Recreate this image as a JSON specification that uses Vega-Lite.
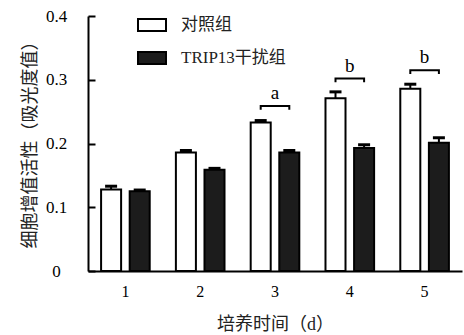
{
  "$schema": "https://vega.github.io/schema/vega-lite/v6.json",
  "width": 374,
  "height": 255,
  "autosize": {"type": "none"},
  "padding": {"left": 88, "top": 16, "right": 2, "bottom": 64},
  "background": "white",
  "config": {"view": {"stroke": null}},
  "datasets": {
    "bars": [
      {"day": "1", "group": "对照组", "value": 0.128, "err": 0.005},
      {"day": "1", "group": "TRIP13干扰组", "value": 0.125, "err": 0.002},
      {"day": "2", "group": "对照组", "value": 0.186, "err": 0.003},
      {"day": "2", "group": "TRIP13干扰组", "value": 0.159, "err": 0.002},
      {"day": "3", "group": "对照组", "value": 0.233, "err": 0.003},
      {"day": "3", "group": "TRIP13干扰组", "value": 0.186, "err": 0.003},
      {"day": "4", "group": "对照组", "value": 0.271, "err": 0.010},
      {"day": "4", "group": "TRIP13干扰组", "value": 0.193, "err": 0.005},
      {"day": "5", "group": "对照组", "value": 0.286, "err": 0.007},
      {"day": "5", "group": "TRIP13干扰组", "value": 0.201, "err": 0.008}
    ],
    "brackets": [
      {"day": "3", "group": "对照组", "y": 0.253, "ord": 1},
      {"day": "3", "group": "对照组", "y": 0.259, "ord": 2},
      {"day": "3", "group": "TRIP13干扰组", "y": 0.259, "ord": 3},
      {"day": "3", "group": "TRIP13干扰组", "y": 0.253, "ord": 4},
      {"day": "4", "group": "对照组", "y": 0.296, "ord": 1},
      {"day": "4", "group": "对照组", "y": 0.302, "ord": 2},
      {"day": "4", "group": "TRIP13干扰组", "y": 0.302, "ord": 3},
      {"day": "4", "group": "TRIP13干扰组", "y": 0.296, "ord": 4},
      {"day": "5", "group": "对照组", "y": 0.309, "ord": 1},
      {"day": "5", "group": "对照组", "y": 0.315, "ord": 2},
      {"day": "5", "group": "TRIP13干扰组", "y": 0.315, "ord": 3},
      {"day": "5", "group": "TRIP13干扰组", "y": 0.309, "ord": 4}
    ],
    "labels": [
      {"day": "3", "y": 0.270, "label": "a"},
      {"day": "4", "y": 0.312, "label": "b"},
      {"day": "5", "y": 0.326, "label": "b"}
    ]
  },
  "encoding": {
    "x": {
      "field": "day", "type": "ordinal",
      "scale": {"paddingInner": 0.35, "paddingOuter": 0.175},
      "axis": {
        "title": "培养时间（d）",
        "labelAngle": 0,
        "labelFont": "'Liberation Serif', 'Times New Roman', serif",
        "labelFontSize": 16,
        "labelColor": "black",
        "labelPadding": 12,
        "ticks": false,
        "domainColor": "black",
        "domainWidth": 2,
        "titleFont": "'Liberation Serif', 'Noto Sans CJK SC', serif",
        "titleFontSize": 18,
        "titleFontWeight": "normal",
        "titleColor": "#222",
        "titlePadding": 16
      }
    }
  },
  "layer": [
    {
      "data": {"name": "bars"},
      "transform": [{"calculate": "datum.value + datum.err", "as": "top"}],
      "mark": {"type": "tick", "color": "black", "thickness": 3, "size": 12, "opacity": 1},
      "encoding": {
        "xOffset": {"field": "group", "type": "nominal", "scale": {"domain": ["对照组", "TRIP13干扰组"], "paddingInner": 0.3, "paddingOuter": 0}},
        "y": {"field": "top", "type": "quantitative"}
      }
    },
    {
      "data": {"name": "bars"},
      "mark": {"type": "bar", "stroke": "black", "strokeWidth": 2},
      "encoding": {
        "xOffset": {"field": "group", "type": "nominal"},
        "y": {
          "field": "value", "type": "quantitative",
          "scale": {"domain": [0, 0.4], "nice": false},
          "axis": {
            "values": [0, 0.1, 0.2, 0.3, 0.4],
            "labelExpr": "datum.value == 0 ? '0' : format(datum.value, '.1f')",
            "grid": false,
            "domainColor": "black",
            "domainWidth": 2,
            "tickColor": "black",
            "tickWidth": 2,
            "tickSize": -7,
            "labelFont": "'Liberation Serif', 'Times New Roman', serif",
            "labelFontSize": 17,
            "labelColor": "black",
            "labelAlign": "center",
            "labelPadding": 39,
            "title": "细胞增值活性（吸光度值）",
            "titleFont": "'Noto Sans CJK SC', sans-serif",
            "titleFontSize": 18,
            "titleFontWeight": "normal",
            "titleColor": "#222",
            "titleX": -58,
            "titleY": 124,
            "titleAngle": -90,
            "titleAlign": "center",
            "titleBaseline": "middle"
          }
        },
        "fill": {
          "field": "group", "type": "nominal",
          "scale": {"domain": ["对照组", "TRIP13干扰组"], "range": ["white", "#1c1c1c"]},
          "legend": {
            "orient": "none",
            "legendX": 49,
            "legendY": -6,
            "title": null,
            "symbolType": "M-1,-0.43H1V0.43H-1Z",
            "symbolSize": 784,
            "symbolStrokeColor": "black",
            "symbolStrokeWidth": 2,
            "labelFont": "'Liberation Serif', 'Noto Sans CJK SC', serif",
            "labelFontSize": 17,
            "labelColor": "#222",
            "labelOffset": 14,
            "rowPadding": 7
          }
        }
      }
    },
    {
      "data": {"name": "bars"},
      "transform": [{"calculate": "datum.value + datum.err", "as": "top"}],
      "mark": {"type": "rule", "stroke": "black", "strokeWidth": 2},
      "encoding": {
        "xOffset": {"field": "group", "type": "nominal"},
        "y": {"field": "value", "type": "quantitative"},
        "y2": {"field": "top"}
      }
    },
    {
      "data": {"name": "brackets"},
      "mark": {"type": "line", "color": "black", "strokeWidth": 2},
      "encoding": {
        "xOffset": {"field": "group", "type": "nominal"},
        "y": {"field": "y", "type": "quantitative"},
        "detail": {"field": "day"},
        "order": {"field": "ord"}
      }
    },
    {
      "data": {"name": "labels"},
      "mark": {"type": "text", "font": "'Liberation Serif', 'Times New Roman', serif", "fontSize": 19, "baseline": "alphabetic", "color": "black"},
      "encoding": {
        "y": {"field": "y", "type": "quantitative"},
        "text": {"field": "label"}
      }
    }
  ]
}
